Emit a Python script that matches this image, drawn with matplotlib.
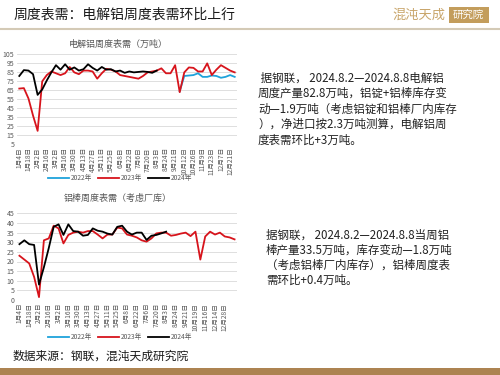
import matplotlib
matplotlib.use("Agg")
import matplotlib.pyplot as plt
from matplotlib.lines import Line2D
from matplotlib.patches import Rectangle

plt.rcParams['font.family'] = ['Noto Sans CJK SC', 'DejaVu Sans']

# 电解铝周度表需（万吨），类目轴，每隔一个类目显示一个日期
ingot_labels = ["1月4日", "1月18日", "2月2日", "2月16日", "3月2日", "3月16日",
                "3月30日", "4月13日", "4月27日", "5月11日", "5月25日", "6月8日",
                "6月22日", "7月6日", "7月20日", "8月3日", "8月24日", "9月21日",
                "10月12日", "10月26日", "11月9日", "11月23日", "12月7日", "12月21日"]
ingot_2022_start = 35
ingot_2022 = [64, 81, 81.5, 82, 84, 80, 80, 81.5, 81, 79, 80, 82, 80]
ingot_2023 = [67, 67.5, 56, 37, 20, 75, 82, 86, 84, 82,
              84, 91, 85, 83, 87, 87, 86, 78, 84, 89,
              88, 86, 82, 81, 80, 79, 78, 81, 85, 86,
              87, 89.5, 84, 84, 93, 63, 85, 90.5, 90, 86,
              86, 95, 82, 88, 93, 90, 87, 85]
ingot_2024 = [81, 87.5, 87, 83, 60, 66, 76, 85, 93, 88,
              94, 88, 90.5, 87, 88.5, 94, 90, 87, 91, 88,
              88.5, 86, 87, 84.5, 86, 85, 85.5, 86, 85.5, 84.5, 87]

# 铝棒周度表需（考虑厂库）
rod_labels = ["1月4日", "1月18日", "2月2日", "2月16日", "3月2日", "3月16日",
              "3月30日", "4月13日", "4月27日", "5月11日", "5月25日", "6月8日",
              "6月22日", "7月6日", "7月20日", "8月3日", "8月24日", "9月21日",
              "10月19日", "11月16日", "12月14日", "12月28日"]
rod_2023 = [23, 21, 19, 12, 1.5, 31, 32, 38.6, 37.2, 29.4,
            33.8, 35, 35.5, 35, 35.8, 35.8, 34, 32, 34, 34,
            37.6, 37.2, 34, 33.4, 32.5, 31, 30.3, 32, 34.6, 35,
            35, 33.4, 33.8, 34.5, 35, 33.2, 35.5, 21, 33, 35.5,
            34, 35, 33, 32.5, 31.5]
rod_2024 = [29, 31, 29, 28.6, 8, 17, 27, 38, 39.3, 33.8,
            39.3, 35.8, 35.5, 33.4, 33.8, 37.2, 36, 35.5, 34.5, 34,
            38, 38.6, 35.5, 34, 35, 35, 31.2, 33.4, 33.8, 34.6, 35.5]

series_names = ["2022年", "2023年", "2024年"]
colors = ["#1fa3db", "#d7141c", "#000000"]

text1 = [" 据钢联， 2024.8.2—2024.8.8电解铝",
         "周度产量82.8万吨，铝锭+铝棒库存变",
         "动—1.9万吨（考虑铝锭和铝棒厂内库存",
         "），净进口按2.3万吨测算，电解铝周",
         "度表需环比+3万吨。"]
text2 = ["据钢联， 2024.8.2—2024.8.8当周铝",
         "棒产量33.5万吨，库存变动—1.8万吨",
         "（考虑铝棒厂内库存），铝棒周度表",
         "需环比+0.4万吨。"]

gray = "#595959"


def style_axis(ax, labels, n_cat, ylim, yticks):
    ax.set_xlim(-0.5, n_cat - 0.5)
    ax.set_ylim(*ylim)
    ax.set_yticks(yticks)
    ax.set_xticks(range(0, 2 * len(labels), 2))
    ax.set_xticklabels(labels, rotation=90, fontsize=4.8, color=gray)
    ax.tick_params(axis='y', labelsize=5, labelcolor=gray, length=0, pad=2)
    ax.tick_params(axis='x', length=0, pad=2)
    ax.grid(axis='y', color="#d9d9d9", linewidth=0.6)
    ax.set_axisbelow(True)
    for s in ax.spines.values():
        s.set_visible(False)


def add_legend(ax, x, y):
    handles = [Line2D([], [], color=c, lw=1.3) for c in colors]
    leg = ax.legend(handles, series_names, loc='center', ncol=3,
                    bbox_to_anchor=(x, y), bbox_transform=fig.transFigure,
                    frameon=False, fontsize=4.8, handlelength=3.2,
                    handletextpad=0.3, columnspacing=0.8)
    for t in leg.get_texts():
        t.set_color(gray)


fig = plt.figure(figsize=(5, 3.75), dpi=100)

# 页眉
fig.text(0.027, 0.96, "周度表需：电解铝周度表需环比上行", fontsize=10,
         va='center', color="#1a1a1a")
fig.text(0.784, 0.96, "混沌天成", fontsize=9.5, va='center', color="#c9a66c")
fig.patches.append(Rectangle((0.897, 0.938), 0.08, 0.042, transform=fig.transFigure,
                             facecolor="#c39d5c", edgecolor='none'))
fig.text(0.937, 0.959, "研究院", fontsize=7.5, va='center', ha='center', color='white')
fig.add_artist(Line2D([0, 1], [0.922, 0.922], transform=fig.transFigure,
                      color="#d4cab6", lw=1.5))

# 上图：电解铝
ax1 = fig.add_axes([0.034, 0.615, 0.44, 0.24])
n1 = len(ingot_2023)
ax1.plot(range(ingot_2022_start, ingot_2022_start + len(ingot_2022)), ingot_2022,
         color=colors[0], lw=1.3)
ax1.plot(range(n1), ingot_2023, color=colors[1], lw=1.3)
ax1.plot(range(len(ingot_2024)), ingot_2024, color=colors[2], lw=1.3)
style_axis(ax1, ingot_labels, n1, (5, 105), range(5, 106, 10))
fig.text(0.236, 0.882, "电解铝周度表需（万吨）", fontsize=6.5, ha='center',
         va='center', color=gray)
add_legend(ax1, 0.24, 0.525)

# 下图：铝棒
ax2 = fig.add_axes([0.034, 0.2, 0.44, 0.231])
n2 = len(rod_2023)
ax2.plot(range(n2), rod_2023, color=colors[1], lw=1.3)
ax2.plot(range(len(rod_2024)), rod_2024, color=colors[2], lw=1.3)
style_axis(ax2, rod_labels, n2, (0, 45), range(0, 46, 5))
fig.text(0.236, 0.47, "铝棒周度表需（考虑厂库）", fontsize=6.5, ha='center',
         va='center', color=gray)
add_legend(ax2, 0.24, 0.1)

# 右侧说明文字
for k, line in enumerate(text1):
    fig.text(0.516, 0.792 - k * 0.0413, line, fontsize=8.3, va='center', color="#222222")
for k, line in enumerate(text2):
    fig.text(0.532, 0.373 - k * 0.0405, line, fontsize=8.3, va='center', color="#222222")

# 页脚
fig.text(0.025, 0.051, "数据来源：钢联，混沌天成研究院", fontsize=8.5, va='center',
         color="#1a1a1a")
fig.patches.append(Rectangle((0, 0), 1, 0.018, transform=fig.transFigure,
                             facecolor="#ad8351", edgecolor='none'))

fig.savefig("out.png", dpi=100)
